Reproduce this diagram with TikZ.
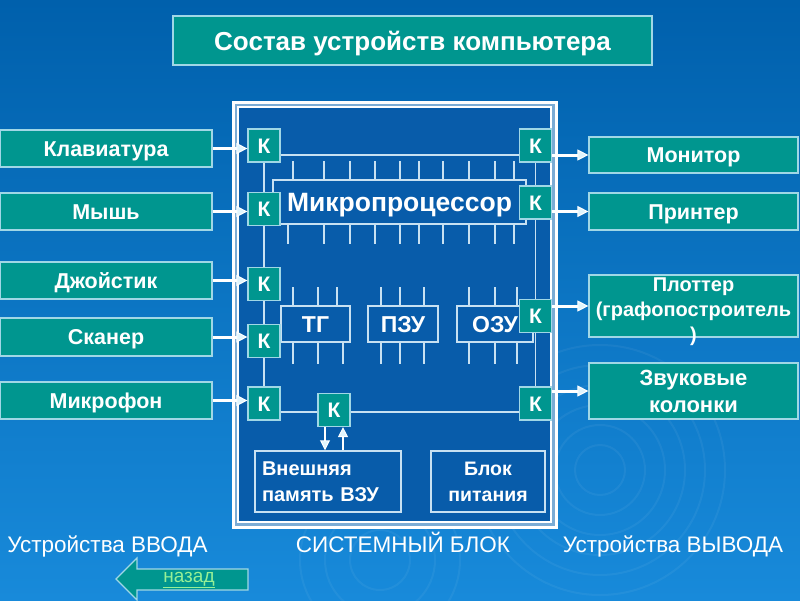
\documentclass[tikz,border=0pt]{standalone}
\usepackage{fontspec}
\setmainfont{Liberation Sans}
\usetikzlibrary{arrows.meta}
\definecolor{bgtop}{RGB}{0,96,172}
\definecolor{bgbot}{RGB}{24,138,218}
\definecolor{sysfill}{RGB}{8,92,170}
\definecolor{teal}{RGB}{0,150,143}
\definecolor{edge}{RGB}{160,215,230}
\definecolor{wire}{RGB}{200,225,242}
\definecolor{lgreen}{RGB}{150,240,150}
\pgfdeclarelayer{bga}
\pgfdeclarelayer{bgb}
\pgfsetlayers{bga,bgb,main}
\tikzset{
  box/.style={draw=edge, line width=1.2pt, fill=teal, text=white, font=\bfseries\fontsize{21.5}{24}\selectfont, inner sep=0pt, align=center},
  oneline/.style={text height=15.5pt, text depth=0pt},
  kbox/.style={box, minimum width=32pt, minimum height=33pt, font=\bfseries\fontsize{21}{23}\selectfont, text height=15pt, text depth=0pt},
  inbox/.style={draw=wire, line width=1.5pt, fill=sysfill, text=white, inner sep=0pt, font=\bfseries\fontsize{23}{25}\selectfont},
  wireline/.style={draw=wire, line width=1.3pt},
  feed/.style={draw=white, line width=3pt, -{Triangle[length=11pt,width=11pt,line width=1pt,fill=white!88!cyan]}},
  vfeed/.style={draw=white, line width=2pt, -{Triangle[length=10pt,width=10pt,line width=1pt,fill=white!88!cyan]}},
  lbl/.style={text=white, font=\fontsize{22.5}{25}\selectfont, inner sep=0pt, anchor=base}
}
\begin{document}
\begin{tikzpicture}[x=1pt,y=-1pt]
\useasboundingbox (0,0) rectangle (800,600);
\begin{pgfonlayer}{bga}
  \shade[top color=bgtop, bottom color=bgbot] (0,0) rectangle (800,600);
  \begin{scope}
    \clip (0,0) rectangle (800,600);
    \foreach \r in {25,45,65,85,105,125}
      \draw[white, opacity=0.05, line width=2pt] (600,470) circle (\r);
    \foreach \r in {30,55,80}
      \draw[white, opacity=0.05, line width=2pt] (380,560) circle (\r);
  \end{scope}
  % system block frame
  \draw[white, line width=3pt, fill=wire!60!sysfill] (233,102) rectangle (556,527);
  \draw[white, line width=1.5pt, fill=sysfill] (238,107) rectangle (551,522);
\end{pgfonlayer}

% title
\node[box, minimum width=479pt, minimum height=49pt, font=\bfseries\fontsize{26}{28}\selectfont, text height=19pt, text depth=0pt] (title) at (412.5,40.5) {Состав устройств компьютера};

% input devices
\node[box, oneline, minimum width=212pt, minimum height=37pt] (kbd) at (106,148.5) {Клавиатура};
\node[box, oneline, minimum width=212pt, minimum height=37pt] (mouse) at (106,211.5) {Мышь};
\node[box, oneline, minimum width=212pt, minimum height=37pt] (joy) at (106,280.5) {Джойстик};
\node[box, oneline, minimum width=212pt, minimum height=38pt] (scan) at (106,337) {Сканер};
\node[box, oneline, minimum width=212pt, minimum height=37pt] (mic) at (106,400.5) {Микрофон};

% output devices
\node[box, oneline, minimum width=209pt, minimum height=36pt] (mon) at (693.5,155) {Монитор};
\node[box, oneline, minimum width=209pt, minimum height=37pt] (prn) at (693.5,211.5) {Принтер};
\node[box, minimum width=209pt, minimum height=62pt] (plot) at (693.5,306) {};
\node[text=white, font=\bfseries\fontsize{20}{25}\selectfont, align=center, inner sep=0pt] (plott) at (693.5,312) {Плоттер\\(графопостроитель\\)};
\node[box, minimum width=209pt, minimum height=56pt, font=\bfseries\fontsize{22}{27}\selectfont] (spk) at (693.5,391) {Звуковые\\колонки};

% inner units
\node[inbox, minimum width=253pt, minimum height=44pt, font=\bfseries\fontsize{26.5}{28}\selectfont, text height=19pt, text depth=0pt] (cpu) at (399.5,202) {Микропроцессор};
\node[inbox, minimum width=69pt, minimum height=36pt, text height=16.5pt, text depth=0pt] (tg) at (315.5,324) {ТГ};
\node[inbox, minimum width=70pt, minimum height=36pt, text height=16.5pt, text depth=0pt] (rom) at (403,324) {ПЗУ};
\node[inbox, minimum width=76pt, minimum height=36pt, text height=16.5pt, text depth=0pt] (ram) at (495,324) {ОЗУ};
\node[inbox, minimum width=146pt, minimum height=61pt, font=\bfseries\fontsize{20}{26}\selectfont, align=left, text width=132pt] (vzu) at (328,481.5) {Внешняя\\память  ВЗУ};
\node[inbox, minimum width=114pt, minimum height=61pt, font=\bfseries\fontsize{19.5}{26}\selectfont, align=center] (psu) at (488,481.5) {Блок\\питания};

% controllers
\node[kbox] (kl1) at (264,145.5) {К};
\node[kbox] (kl2) at (264,209) {К};
\node[kbox] (kl3) at (264,284) {К};
\node[kbox] (kl4) at (264,341) {К};
\node[kbox] (kl5) at (264,403.5) {К};
\node[kbox] (kr1) at (535.5,145.5) {К};
\node[kbox] (kr2) at (535.5,202.5) {К};
\node[kbox] (kr3) at (535.5,316) {К};
\node[kbox] (kr4) at (535.5,403.5) {К};
\node[kbox] (km) at (334,410) {К};

% bus lines
\begin{pgfonlayer}{bgb}
  \draw[wireline] (kl1) -- (kl5);
  \draw[wireline] (kr1) -- (kr4);
  \draw[wireline] ([yshift=-9.5pt]kl1.east) -- ([yshift=-9.5pt]kr1.west);
  \draw[wireline] ([yshift=-8.5pt]kl5.east) -- ([yshift=-8.5pt]kr4.west);
  \foreach \x in {293,324,350,375,400,419,443,469,495,514}
    \draw[wireline] (\x,0 |- cpu.north) -- ++(0,-18);
  \foreach \x in {288,324,350,375,400,419,443,469,495,514}
    \draw[wireline] (\x,0 |- cpu.south) -- ++(0,19);
  \foreach \x in {293,318,337}
    \draw[wireline] (\x,0 |- tg.north) -- ++(0,-18);
  \foreach \x in {293,318,343}
    \draw[wireline] (\x,0 |- tg.south) -- ++(0,21);
  \foreach \x in {381,400,424}
    {\draw[wireline] (\x,0 |- rom.north) -- ++(0,-18);
     \draw[wireline] (\x,0 |- rom.south) -- ++(0,21);}
  \foreach \x in {469,495,517}
    {\draw[wireline] (\x,0 |- ram.north) -- ++(0,-18);
     \draw[wireline] (\x,0 |- ram.south) -- ++(0,21);}
\end{pgfonlayer}

% input arrows
\foreach \d/\k in {kbd/kl1, mouse/kl2, joy/kl3, scan/kl4, mic/kl5}
  \draw[feed] (\d.east) -- (\d.east -| \k.west);
% output arrows
\foreach \d/\k in {mon/kr1, prn/kr2, plot/kr3, spk/kr4}
  \draw[feed] (\k.east |- \d.west) -- (\d.west);
% external memory
\draw[vfeed] ([xshift=-9pt]km.south) -- ([xshift=-9pt]km.south |- vzu.north);
\draw[vfeed] ([xshift=9pt]km.south |- vzu.north) -- ([xshift=9pt]km.south);

% captions
\node[lbl] (cin) at (107.5,552) {Устройства ВВОДА};
\node[lbl] (csys) at (403,552) {СИСТЕМНЫЙ БЛОК};
\node[lbl] (cout) at (673,552) {Устройства ВЫВОДА};

% back button
\draw[draw=edge, line width=1.2pt, fill=teal] (116,579) -- (137,558) -- (137,569) -- (248,569) -- (248,590) -- (137,590) -- (137,600) -- cycle;
\node[text=lgreen, font=\fontsize{19}{21}\selectfont, inner sep=0pt] (back) at (189,580) {\underline{назад}};
\end{tikzpicture}
\end{document}
